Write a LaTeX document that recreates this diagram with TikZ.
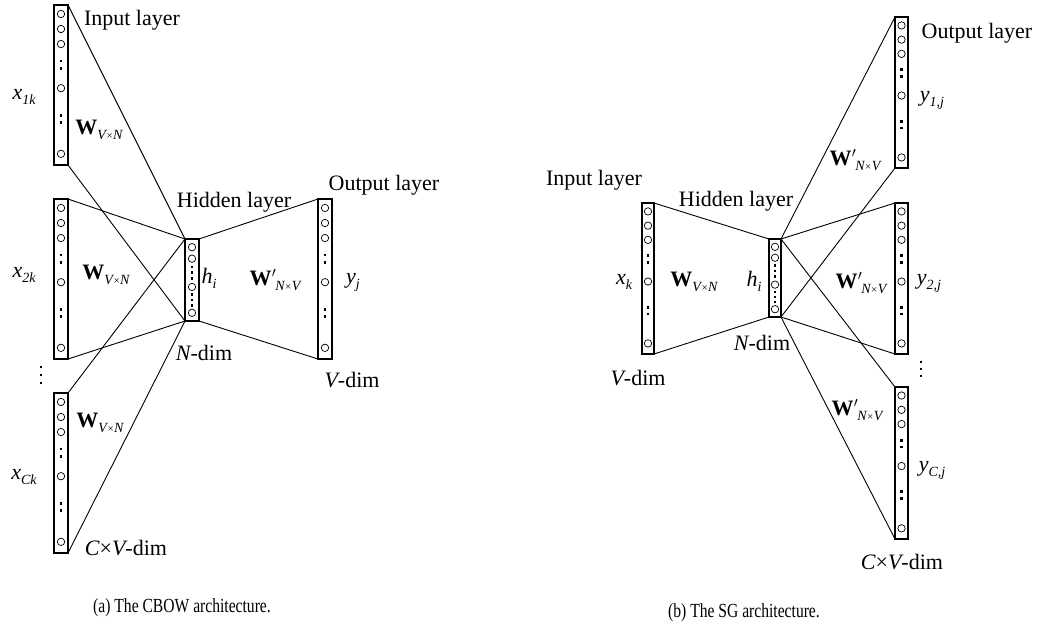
\documentclass[tikz,border=0pt]{standalone}
\usepackage{fontspec}
\setmainfont{Liberation Serif}
\usetikzlibrary{calc}
\newcommand{\sbs}[1]{\raisebox{-0.5ex}{\fontsize{14}{14}\selectfont\itshape #1}}
\newcommand{\Wvn}{{\bfseries W}\sbs{V\kern0.5pt{\upshape\fontsize{11}{11}\selectfont ×}\kern0.5pt N}}
\newcommand{\Wnv}{{\bfseries W}\kern0.3pt$^{\prime}$\kern-1pt\sbs{N\kern0.5pt{\upshape\fontsize{11}{11}\selectfont ×}\kern0.5pt V}}
\newcommand{\capbox}[1]{\scalebox{0.78}[1]{#1}}
\newcommand{\colfill}[1]{%
  \foreach \f in {0.056,0.15,0.244,0.52,0.93}
    \draw[line width=0.7pt] ($(#1.north)!\f!(#1.south)$) circle (3.7);
  \foreach \f in {0.35,0.395,0.69,0.735}
    \fill ($(#1.north)!\f!(#1.south)$) ++(-1.4,-1.4) rectangle ++(2.8,2.8);
}
\newcommand{\hidfill}[1]{%
  \foreach \f in {0.1,0.24,0.585,0.9}
    \draw[line width=0.7pt] ($(#1.north)!\f!(#1.south)$) circle (3.7);
  \foreach \f in {0.34,0.41,0.48,0.68,0.745,0.81}
    \fill ($(#1.north)!\f!(#1.south)$) ++(-1.3,-1.3) rectangle ++(2.6,2.6);
}
\begin{document}
\begin{tikzpicture}[x=1pt,y=-1pt,
  col/.style={draw, line width=1.1pt, inner sep=0pt, outer sep=0pt, minimum width=#1},
  lbl/.style={inner sep=0pt, font=\fontsize{22}{26}\selectfont},
  captext/.style={inner sep=0pt, font=\fontsize{20}{24}\selectfont},
  conn/.style={line width=0.9pt}]
\useasboundingbox (0,0) rectangle (1037,630);
% ---------------- CBOW ----------------
\node[col=14pt, minimum height=160pt] (i1) at (61,85) {};
\node[col=14pt, minimum height=160pt] (i2) at (61,279) {};
\node[col=14pt, minimum height=160pt] (i3) at (61,473) {};
\node[col=14pt, minimum height=82pt] (hc) at (192,280) {};
\node[col=14pt, minimum height=160pt] (oc) at (325,279) {};
\colfill{i1}\colfill{i2}\colfill{i3}\colfill{oc}\hidfill{hc}
\draw[conn] (i1.north east) -- (hc.north west);
\draw[conn] (i1.south east) -- (hc.south west);
\draw[conn] (i2.north east) -- (hc.north west);
\draw[conn] (i2.south east) -- (hc.south west);
\draw[conn] (i3.north east) -- (hc.north west);
\draw[conn] (i3.south east) -- (hc.south west);
\draw[conn] (hc.north east) -- (oc.north west);
\draw[conn] (hc.south east) -- (oc.south west);
\foreach \yy in {367,375,383}
  \fill (41,\yy) ++(-1.4,-1.4) rectangle ++(2.8,2.8);
\node[lbl] (tin) at (132,20) {Input layer};
\node[lbl] (x1) at (24,97) {\itshape x\sbs{1k}};
\node[lbl] (w1) at (99,130) {\Wvn};
\node[lbl] (x2) at (24,275) {\itshape x\sbs{2k}};
\node[lbl] (w2) at (106,275) {\Wvn};
\node[lbl] (x3) at (24,477) {\itshape x\sbs{Ck}};
\node[lbl] (w3) at (100,423) {\Wvn};
\node[lbl] (cvd) at (126,548) {{\itshape C}×{\itshape V}-dim};
\node[lbl] (thid) at (234,202) {Hidden layer};
\node[lbl] (hi) at (209,278) {\itshape h\sbs{i}};
\node[lbl] (wp) at (275,280) {\Wnv};
\node[lbl] (nd) at (204,353) {{\itshape N}-dim};
\node[lbl] (tout) at (384,185) {Output layer};
\node[lbl] (yj) at (353,282) {\itshape y\sbs{j}};
\node[lbl] (vd) at (352,380) {{\itshape V}-dim};
\node[captext] (capa) at (182,608) {\capbox{(a) The CBOW architecture.}};
% ---------------- SG ----------------
\node[col=12pt, minimum height=151pt] (is) at (648,278.5) {};
\node[col=12pt, minimum height=78pt] (hs) at (775,278) {};
\node[col=13pt, minimum height=151pt] (o1) at (901.5,92.5) {};
\node[col=13pt, minimum height=151pt] (o2) at (901.5,278.5) {};
\node[col=13pt, minimum height=152pt] (o3) at (901.5,463) {};
\colfill{is}\colfill{o1}\colfill{o2}\colfill{o3}\hidfill{hs}
\draw[conn] (is.north east) -- (hs.north west);
\draw[conn] (is.south east) -- (hs.south west);
\draw[conn] (hs.north east) -- (o1.north west);
\draw[conn] (hs.south east) -- (o1.south west);
\draw[conn] (hs.north east) -- (o2.north west);
\draw[conn] (hs.south east) -- (o2.south west);
\draw[conn] (hs.north east) -- (o3.north west);
\draw[conn] (hs.south east) -- (o3.south west);
\foreach \yy in {362,369,376}
  \fill (921,\yy) ++(-1.4,-1.4) rectangle ++(2.8,2.8);
\node[lbl] (tins) at (594,180) {Input layer};
\node[lbl] (thids) at (736,201) {Hidden layer};
\node[lbl] (xk) at (624,282) {\itshape x\sbs{k}};
\node[lbl] (ws) at (694,282) {\Wvn};
\node[lbl] (his) at (754,281) {\itshape h\sbs{i}};
\node[lbl] (nds) at (762,343) {{\itshape N}-dim};
\node[lbl] (vds) at (638,378) {{\itshape V}-dim};
\node[lbl] (wp1) at (855,160) {\Wnv};
\node[lbl] (wp2) at (861,283) {\Wnv};
\node[lbl] (wp3) at (857,410) {\Wnv};
\node[lbl] (touts) at (977,33) {Output layer};
\node[lbl] (y1) at (932,100) {\itshape y\sbs{1,j}};
\node[lbl] (y2) at (929,283) {\itshape y\sbs{2,j}};
\node[lbl] (y3) at (932,470) {\itshape y\sbs{C,j}};
\node[lbl] (cvds) at (902,562) {{\itshape C}×{\itshape V}-dim};
\node[captext] (capb) at (744,613) {\capbox{(b) The SG architecture.}};
\end{tikzpicture}
\end{document}
